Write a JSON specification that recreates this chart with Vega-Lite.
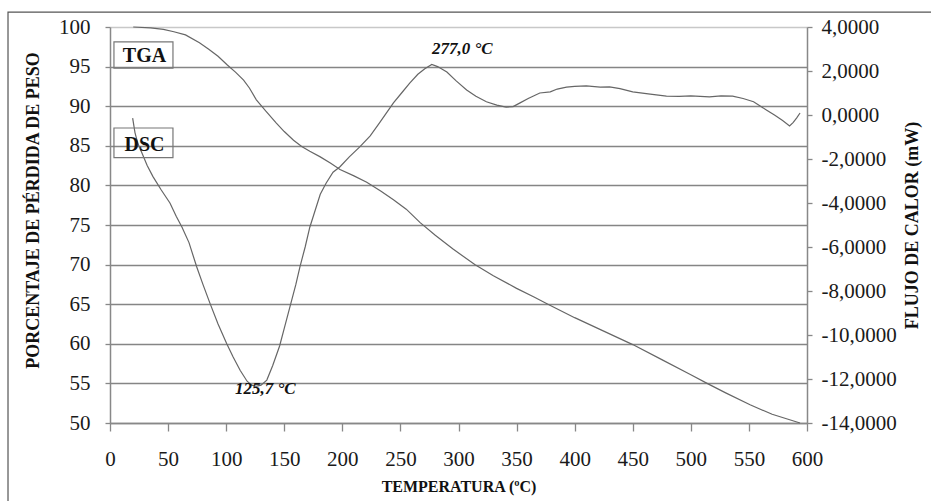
{
  "$schema": "https://vega.github.io/schema/vega-lite/v6.json",
  "autosize": {"type": "none"},
  "width": 697,
  "height": 396,
  "padding": {"left": 110, "top": 27, "right": 124, "bottom": 78},
  "background": "white",
  "config": {"view": {"stroke": null}, "font": "Liberation Serif"},
  "datasets": {
    "tga": [
      {"T": 20, "pct": 100.0}, {"T": 35, "pct": 99.9}, {"T": 46, "pct": 99.7}, {"T": 55, "pct": 99.4},
      {"T": 65, "pct": 99.0}, {"T": 77, "pct": 98.0}, {"T": 85, "pct": 97.2}, {"T": 93, "pct": 96.3},
      {"T": 101, "pct": 95.2}, {"T": 108, "pct": 94.3}, {"T": 115, "pct": 93.3}, {"T": 120, "pct": 92.3},
      {"T": 126, "pct": 90.8}, {"T": 134, "pct": 89.4}, {"T": 143, "pct": 87.9}, {"T": 150, "pct": 86.8},
      {"T": 158, "pct": 85.7}, {"T": 165, "pct": 84.9}, {"T": 172, "pct": 84.3}, {"T": 181, "pct": 83.6},
      {"T": 190, "pct": 82.8}, {"T": 198, "pct": 82.0}, {"T": 210, "pct": 81.2}, {"T": 221, "pct": 80.4},
      {"T": 233, "pct": 79.3}, {"T": 244, "pct": 78.2}, {"T": 255, "pct": 77.0}, {"T": 267, "pct": 75.3},
      {"T": 280, "pct": 73.7}, {"T": 295, "pct": 72.0}, {"T": 314, "pct": 70.0}, {"T": 330, "pct": 68.6},
      {"T": 350, "pct": 67.0}, {"T": 365, "pct": 65.9}, {"T": 377, "pct": 65.0}, {"T": 400, "pct": 63.3},
      {"T": 425, "pct": 61.6}, {"T": 450, "pct": 59.9}, {"T": 475, "pct": 58.0}, {"T": 500, "pct": 56.1},
      {"T": 514, "pct": 55.0}, {"T": 530, "pct": 53.8}, {"T": 551, "pct": 52.3}, {"T": 570, "pct": 51.1},
      {"T": 594, "pct": 50.0}
    ],
    "dsc": [
      {"T": 19.5, "mw": -0.14}, {"T": 21.5, "mw": -0.8}, {"T": 24, "mw": -1.3}, {"T": 27.5, "mw": -1.73},
      {"T": 32, "mw": -2.3}, {"T": 37, "mw": -2.8}, {"T": 44, "mw": -3.4}, {"T": 51.6, "mw": -4.0},
      {"T": 57, "mw": -4.6}, {"T": 62, "mw": -5.1}, {"T": 68, "mw": -5.8}, {"T": 74.6, "mw": -6.9},
      {"T": 80, "mw": -7.7}, {"T": 86, "mw": -8.55}, {"T": 93, "mw": -9.5}, {"T": 100.5, "mw": -10.4},
      {"T": 106, "mw": -11.0}, {"T": 112, "mw": -11.6}, {"T": 118, "mw": -12.1}, {"T": 122, "mw": -12.28},
      {"T": 125.7, "mw": -12.33}, {"T": 130, "mw": -12.28}, {"T": 135, "mw": -12.05}, {"T": 140, "mw": -11.4},
      {"T": 146, "mw": -10.5}, {"T": 150, "mw": -9.7}, {"T": 155, "mw": -8.7}, {"T": 160, "mw": -7.7},
      {"T": 163.5, "mw": -6.9}, {"T": 168, "mw": -6.0}, {"T": 172, "mw": -5.1}, {"T": 175, "mw": -4.6},
      {"T": 181, "mw": -3.6}, {"T": 186, "mw": -3.1}, {"T": 192, "mw": -2.6}, {"T": 198, "mw": -2.35},
      {"T": 206, "mw": -1.9}, {"T": 215, "mw": -1.45}, {"T": 224, "mw": -0.95}, {"T": 232, "mw": -0.36},
      {"T": 238, "mw": 0.1}, {"T": 244, "mw": 0.55}, {"T": 251, "mw": 1.0}, {"T": 258, "mw": 1.45},
      {"T": 265, "mw": 1.85}, {"T": 271, "mw": 2.1}, {"T": 277, "mw": 2.3}, {"T": 282, "mw": 2.2},
      {"T": 290, "mw": 1.95}, {"T": 298, "mw": 1.55}, {"T": 307, "mw": 1.14}, {"T": 315, "mw": 0.85},
      {"T": 324, "mw": 0.6}, {"T": 333, "mw": 0.45}, {"T": 341, "mw": 0.36}, {"T": 347, "mw": 0.38},
      {"T": 353, "mw": 0.55}, {"T": 360, "mw": 0.75}, {"T": 370, "mw": 1.0}, {"T": 379, "mw": 1.05},
      {"T": 385, "mw": 1.18}, {"T": 393, "mw": 1.27}, {"T": 400, "mw": 1.3}, {"T": 410, "mw": 1.32},
      {"T": 422, "mw": 1.27}, {"T": 430, "mw": 1.28}, {"T": 439, "mw": 1.2}, {"T": 450, "mw": 1.05},
      {"T": 465, "mw": 0.95}, {"T": 479, "mw": 0.86}, {"T": 490, "mw": 0.85}, {"T": 500, "mw": 0.87},
      {"T": 516, "mw": 0.82}, {"T": 526, "mw": 0.87}, {"T": 536, "mw": 0.86}, {"T": 545, "mw": 0.75},
      {"T": 554, "mw": 0.6}, {"T": 560, "mw": 0.4}, {"T": 565, "mw": 0.23}, {"T": 572, "mw": 0.0},
      {"T": 579, "mw": -0.25}, {"T": 585, "mw": -0.5}, {"T": 588, "mw": -0.35}, {"T": 591, "mw": -0.14},
      {"T": 594, "mw": 0.09}
    ],
    "boxes": [
      {"label": "TGA", "t0": 3.4, "t1": 54.2, "m0": 2.13, "m1": 3.32, "tx": 29.7, "my": 2.70},
      {"label": "DSC", "t0": 3.4, "t1": 54.2, "m0": -1.94, "m1": -0.59, "tx": 29.7, "my": -1.36}
    ],
    "notes": [
      {"label": "277,0 °C", "T": 277.2, "mw": 3.0},
      {"label": "125,7 °C", "T": 107.6, "mw": -12.45}
    ]
  },
  "layer": [
    {
      "data": {"name": "tga"},
      "mark": {"type": "line", "color": "#666666", "strokeWidth": 1.2},
      "encoding": {
        "x": {
          "field": "T", "type": "quantitative",
          "scale": {"domain": [0, 600], "nice": false, "zero": false},
          "axis": {
            "values": [0, 50, 100, 150, 200, 250, 300, 350, 400, 450, 500, 550, 600],
            "title": "TEMPERATURA (ºC)",
            "grid": false,
            "tickSize": 8, "tickColor": "#888888", "tickWidth": 1.3,
            "domainColor": "#888888", "domainWidth": 1.5,
            "labelFont": "Liberation Serif", "labelFontSize": 21, "labelColor": "#1a1a1a",
            "labelPadding": 17, "labelFlush": false, "labelOverlap": false,
            "titleFont": "Liberation Serif", "titleFontSize": 16, "titleFontWeight": "bold",
            "titleColor": "#111111", "titlePadding": 9
          }
        },
        "y": {
          "field": "pct", "type": "quantitative",
          "scale": {"domain": [50, 100], "nice": false, "zero": false},
          "axis": {
            "values": [50, 55, 60, 65, 70, 75, 80, 85, 90, 95, 100],
            "title": "PORCENTAJE DE PÉRDIDA DE PESO",
            "grid": true,
            "gridColor": {"condition": {"test": "datum.value == 100", "value": "#c8c8c8"}, "value": "#858585"},
            "gridWidth": 1.5,
            "tickSize": 5, "tickColor": "#888888", "tickWidth": 1.3,
            "domainColor": "#888888", "domainWidth": 1.5,
            "labelFont": "Liberation Serif", "labelFontSize": 21, "labelColor": "#1a1a1a",
            "labelPadding": 15, "labelFlush": false, "labelOverlap": false,
            "titleFont": "Liberation Serif", "titleFontSize": 18, "titleFontWeight": "bold",
            "titleColor": "#111111", "titlePadding": 16, "titleY": 183
          }
        }
      }
    },
    {
      "layer": [
        {
          "data": {"name": "dsc"},
          "mark": {"type": "line", "color": "#666666", "strokeWidth": 1.2},
          "encoding": {
            "x": {"field": "T", "type": "quantitative"},
            "y": {
              "field": "mw", "type": "quantitative",
              "scale": {"domain": [-14, 4], "nice": false, "zero": false},
              "axis": {
                "orient": "right",
                "values": [-14, -12, -10, -8, -6, -4, -2, 0, 2, 4],
                "labelExpr": "(datum.value < 0 ? '-' : '') + replace(format(abs(datum.value), '.4f'), '.', ',')",
                "title": "FLUJO DE CALOR (mW)",
                "grid": false,
                "tickSize": 5, "tickColor": "#888888", "tickWidth": 1.3,
                "domainColor": "#888888", "domainWidth": 1.5,
                "labelFont": "Liberation Serif", "labelFontSize": 21, "labelColor": "#1a1a1a",
                "labelPadding": 9, "labelFlush": false, "labelOverlap": false,
                "titleFont": "Liberation Serif", "titleFontSize": 18, "titleFontWeight": "bold",
                "titleColor": "#111111", "titlePadding": 7, "titleAngle": 270, "titleBaseline": "top"
              }
            }
          }
        },
        {
          "data": {"values": [{}]},
          "mark": {"type": "rect", "fill": null, "stroke": "#555555", "strokeWidth": 1.2},
          "encoding": {
            "x": {"datum": -87.8, "type": "quantitative"},
            "x2": {"datum": 712},
            "y": {"datum": 4.68, "type": "quantitative"},
            "y2": {"datum": -18.3}
          }
        },
        {
          "data": {"name": "boxes"},
          "mark": {"type": "rect", "fill": null, "stroke": "#777777", "strokeWidth": 1.2},
          "encoding": {
            "x": {"field": "t0", "type": "quantitative"},
            "x2": {"field": "t1"},
            "y": {"field": "m0", "type": "quantitative"},
            "y2": {"field": "m1"}
          }
        },
        {
          "data": {"name": "boxes"},
          "mark": {"type": "text", "font": "Liberation Serif", "fontSize": 20, "fontWeight": "bold", "color": "#111111", "align": "center", "baseline": "middle"},
          "encoding": {
            "x": {"field": "tx", "type": "quantitative"},
            "y": {"field": "my", "type": "quantitative"},
            "text": {"field": "label"}
          }
        },
        {
          "data": {"name": "notes"},
          "mark": {"type": "text", "font": "Liberation Serif", "fontSize": 17, "fontWeight": "bold", "fontStyle": "italic", "color": "#111111", "align": "left", "baseline": "middle"},
          "encoding": {
            "x": {"field": "T", "type": "quantitative"},
            "y": {"field": "mw", "type": "quantitative"},
            "text": {"field": "label"}
          }
        }
      ]
    }
  ],
  "resolve": {"scale": {"y": "independent"}}
}
